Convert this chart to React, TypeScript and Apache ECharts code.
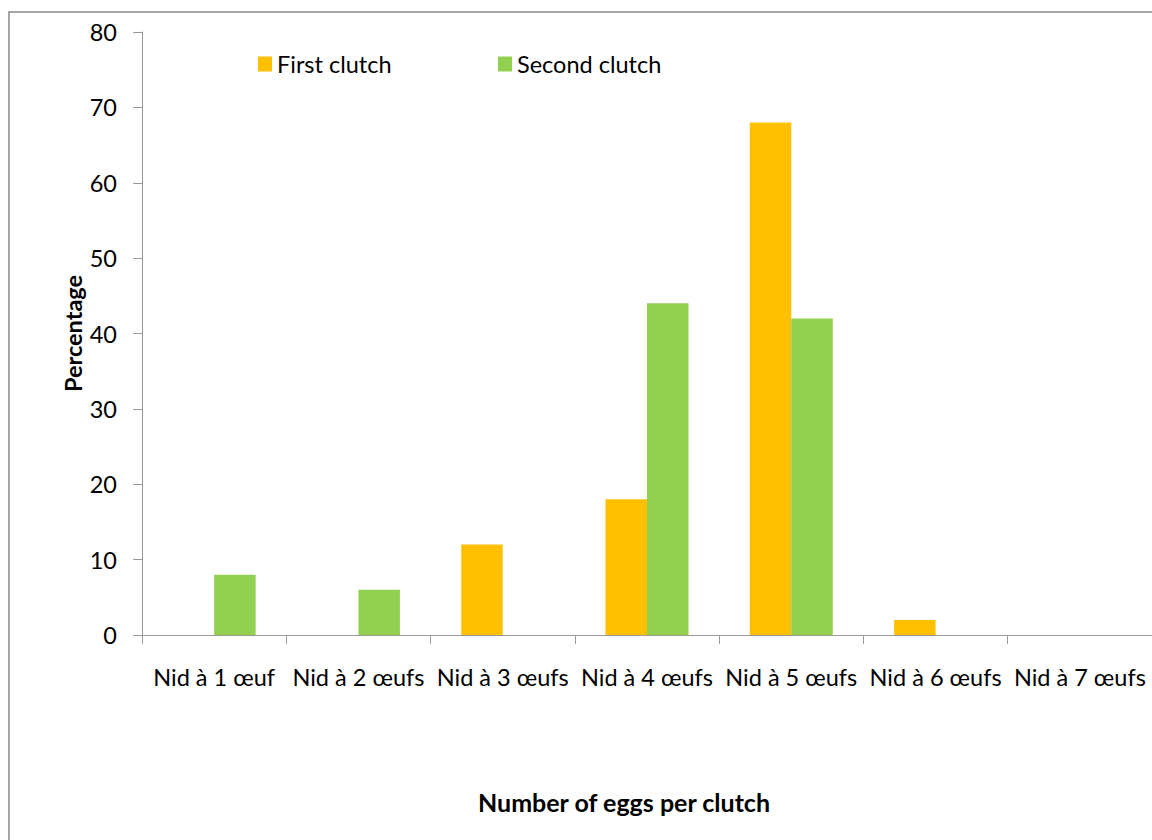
import React, { useEffect, useRef } from "react";
import * as echarts from "echarts";

const categories = [
  "Nid à 1 œuf",
  "Nid à 2 œufs",
  "Nid à 3 œufs",
  "Nid à 4 œufs",
  "Nid à 5 œufs",
  "Nid à 6 œufs",
  "Nid à 7 œufs",
];
const firstClutch = [0, 0, 12, 18, 68, 2, 0];
const secondClutch = [8, 6, 0, 44, 42, 0, 0];
const yTicks = { min: 0, max: 80, interval: 10 };

const FONT = "Lato";
const FS = 23.5;

export default function App() {
  const ref = useRef<HTMLDivElement>(null);
  useEffect(() => {
    const chart = echarts.init(ref.current!, undefined, { renderer: "svg" });
    const toNull = (arr: number[]) => arr.map((v) => (v === 0 ? null : v));
    chart.setOption({
      animation: false,
      backgroundColor: "#ffffff",
      textStyle: { fontFamily: FONT },
      grid: { left: 142, top: 32, right: -3, bottom: 205, containLabel: false },
      graphic: [
        {
          type: "rect",
          shape: { x: 9, y: 12, width: 1160, height: 840 },
          style: { fill: "none", stroke: "#a6a6a6", lineWidth: 2 },
          silent: true,
        },
      ],
      legend: [
        {
          data: ["First clutch"],
          left: 253,
          top: 47,
          itemWidth: 14,
          itemHeight: 15,
          icon: "rect",
          textStyle: { fontSize: FS, color: "#000", fontFamily: FONT, padding: [0, 0, 0, 0] },
        },
        {
          data: ["Second clutch"],
          left: 493,
          top: 47,
          itemWidth: 14,
          itemHeight: 15,
          icon: "rect",
          textStyle: { fontSize: FS, color: "#000", fontFamily: FONT, padding: [0, 0, 0, 0] },
        },
      ],
      xAxis: {
        type: "category",
        data: categories,
        name: "Number of eggs per clutch",
        nameLocation: "middle",
        nameGap: 154,
        nameMoveOverlap: false,
        nameTextStyle: {
          fontSize: 25,
          fontWeight: "bold",
          color: "#000",
          fontFamily: FONT,
          padding: [0, 46, 0, 0],
        },
        axisLine: { lineStyle: { color: "#999999", width: 1 } },
        axisTick: { show: true, length: 9, lineStyle: { color: "#999999" } },
        axisLabel: { fontSize: FS, color: "#000", margin: 30, interval: 0, fontFamily: FONT },
        splitLine: { show: false },
      },
      yAxis: {
        type: "value",
        min: yTicks.min,
        max: yTicks.max,
        interval: yTicks.interval,
        name: "Percentage",
        nameLocation: "middle",
        nameGap: 57,
        nameMoveOverlap: false,
        nameRotate: 90,
        nameTextStyle: { fontSize: FS, fontWeight: "bold", color: "#000", fontFamily: FONT },
        axisLine: { show: true, lineStyle: { color: "#999999", width: 1 } },
        axisTick: { show: true, length: 9, lineStyle: { color: "#999999" } },
        axisLabel: { fontSize: FS, color: "#000", margin: 25, fontFamily: FONT },
        splitLine: { show: false },
      },
      series: [
        {
          name: "First clutch",
          type: "bar",
          data: toNull(firstClutch),
          barWidth: 41.5,
          barGap: "0%",
          itemStyle: { color: "#ffc000" },
        },
        {
          name: "Second clutch",
          type: "bar",
          data: toNull(secondClutch),
          barWidth: 41.5,
          barGap: "0%",
          itemStyle: { color: "#92d050" },
        },
      ],
    });
    return () => chart.dispose();
  }, []);
  return (
    <div
      ref={ref}
      style={{ position: "fixed", left: 0, top: 0, width: 1152, height: 840 }}
    />
  );
}
